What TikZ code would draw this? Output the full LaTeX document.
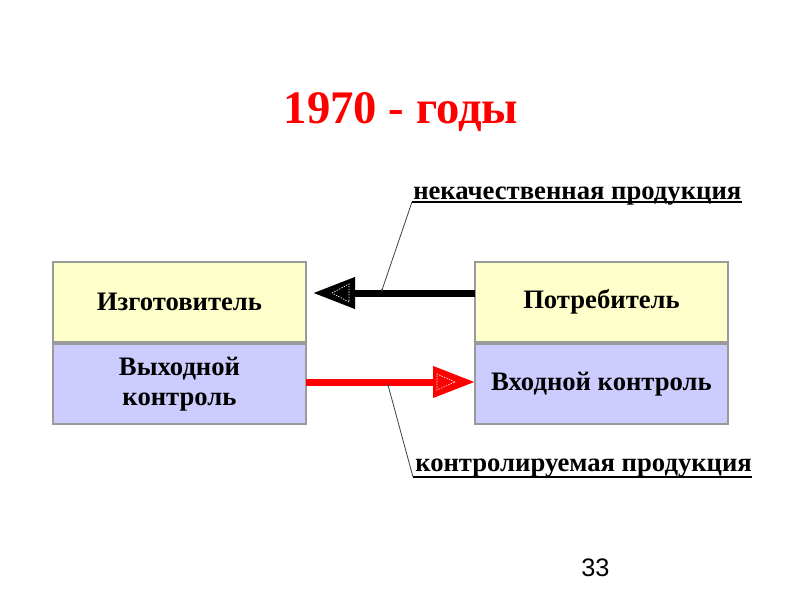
\documentclass[tikz,border=0pt]{standalone}
\usepackage{fontspec}
\setmainfont{Liberation Serif}
\newfontfamily\pgnumfont{Liberation Sans}
\usetikzlibrary{arrows.meta,calc}
\definecolor{boxyellow}{HTML}{FFFFCC}
\definecolor{boxblue}{HTML}{CCCCFF}
\definecolor{boxgray}{HTML}{9A9A9A}
\definecolor{titlered}{HTML}{FF0000}
\definecolor{calloutgray}{HTML}{404040}
\begin{document}
\begin{tikzpicture}[x=0.75pt,y=-0.75pt,
  box/.style={draw=boxgray, line width=1.1pt, minimum width=189.75pt, minimum height=60pt,
    inner sep=0pt, outer sep=0pt, align=center, anchor=north west,
    font=\bfseries\fontsize{20}{22}\selectfont},
  yellowbox/.style={box, fill=boxyellow},
  bluebox/.style={box, fill=boxblue},
  flowarrow/.style={line width=5.25pt, -{Triangle[length=31.5pt,width=22.5pt]}},
  innermark/.style={draw=white, line width=0.5pt, dash pattern=on 1pt off 1pt},
  labeltext/.style={anchor=base west, inner sep=0pt, font=\bfseries\fontsize{20}{22}\selectfont},
  callout/.style={draw=calloutgray, line width=0.6pt},
  underline/.style={draw=black, line width=1.2pt}
]
\useasboundingbox (0,0) rectangle (800,600);

% title
\node[anchor=base, inner sep=0pt, text=titlered, font=\bfseries\fontsize{35}{40}\selectfont] (title) at (401,123) {1970 - годы};

% boxes
\node[yellowbox] (izg) at (53,262) {Изготовитель};
\node[bluebox] (vyh) at (53,344) {Выходной\\контроль};
\node[yellowbox] (pot) at (475,262) {Потребитель};
\node[bluebox] (vhod) at (475,344) {Входной контроль};

% black arrow (defective products back to manufacturer)
\coordinate (bstart) at ($(pot.west)+(0,-9)$);
\coordinate (btip) at ($(izg.east)+(7,-9)$);
\draw[flowarrow, draw=black, fill=black] (bstart) -- (btip);
\draw[innermark] ($(btip)+(19,0)$) -- ($(btip)+(36,-9)$) -- ($(btip)+(36,9)$) -- cycle;

% red arrow (controlled products to consumer)
\coordinate (rstart) at ($(vyh.east)+(0,-2)$);
\coordinate (rtip) at ($(vhod.west)+(0,-2)$);
\draw[flowarrow, draw=titlered, fill=titlered] (rstart) -- (rtip);
\draw[innermark] ($(rtip)+(-20,0)$) -- ($(rtip)+(-38,-8)$) -- ($(rtip)+(-38,8)$) -- cycle;

% labels with underline and callouts
\node[labeltext] (lab1) at (413,199) {некачественная продукция};
\coordinate (u1a) at ($(lab1.base west)+(-1,3)$);
\coordinate (u1b) at ($(lab1.base east)+(0,3)$);
\draw[underline] (u1a) -- (u1b);
\coordinate (c1) at (382,290);
\draw[callout] (u1a) -- (c1);
\fill[calloutgray] (c1) circle (1.2);

\node[labeltext] (lab2) at (415,471) {контролируемая продукция};
\coordinate (u2a) at ($(lab2.base west)+(-2,6)$);
\coordinate (u2b) at ($(lab2.base east)+(0,6)$);
\draw[underline] (u2a) -- (u2b);
\coordinate (c2) at (388,385);
\draw[callout] (c2) -- (u2a);
\fill[calloutgray] (c2) circle (1.2);

% page number
\node[anchor=base west, inner sep=0pt, font=\pgnumfont\fontsize{19}{22}\selectfont] (pg) at (581,576) {33};
\end{tikzpicture}
\end{document}
